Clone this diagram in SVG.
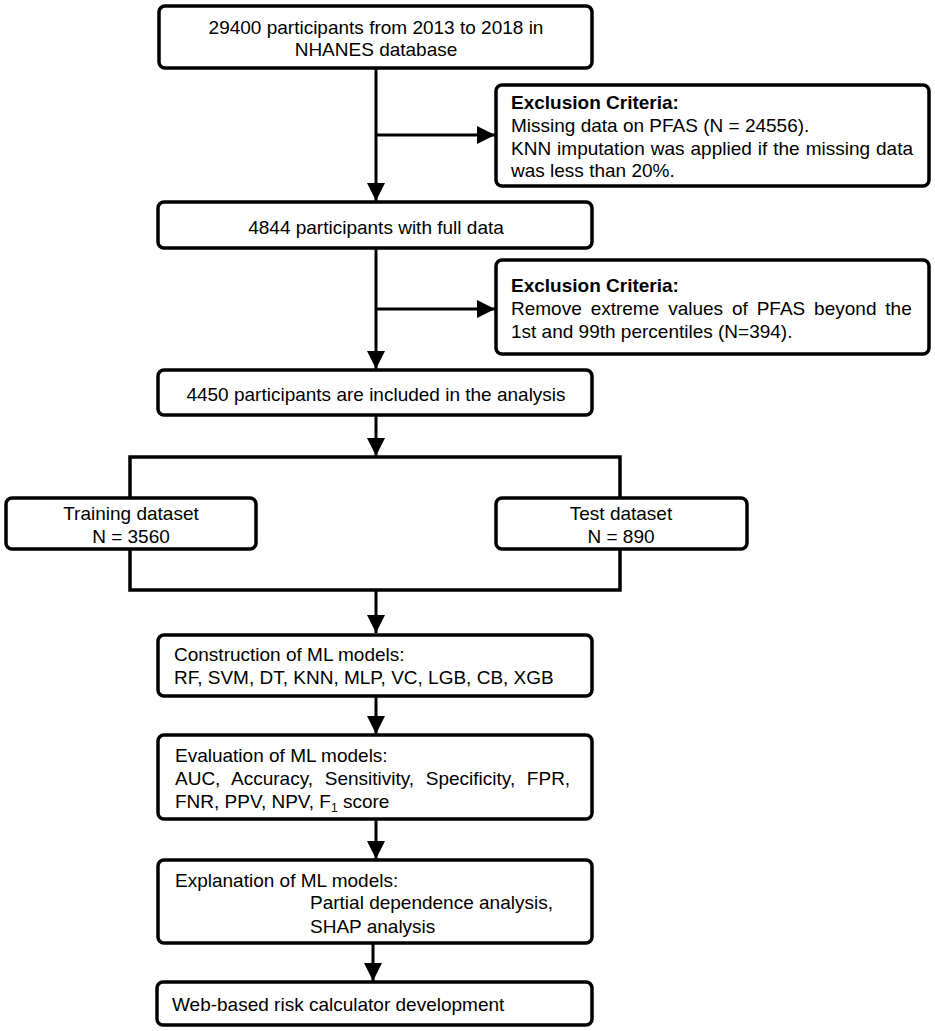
<svg xmlns="http://www.w3.org/2000/svg" width="935" height="1031" viewBox="0 0 935 1031">
<defs>
<marker id="ah" markerWidth="6" markerHeight="6" refX="6" refY="3" orient="auto" markerUnits="strokeWidth">
<path d="M0,0 L6,3 L0,6 Z" fill="#000"/>
</marker>
<style>
.box{fill:#fff;stroke:#000;stroke-width:3.5}
.t{font-family:"Liberation Sans",Arial,sans-serif;font-size:19px;fill:#000}
.c{text-anchor:middle}
.b{font-weight:bold}
.ln{fill:none;stroke:#000;stroke-width:3.5;stroke-linejoin:miter}
.ar{fill:none;stroke:#000;stroke-width:3;marker-end:url(#ah)}
</style>
</defs>
<rect width="935" height="1031" fill="#fff"/>
<g id="connectors">
<line class="ar" x1="376" y1="68" x2="376" y2="201"/>
<line class="ar" x1="376" y1="135" x2="495" y2="135"/>
<line class="ar" x1="376" y1="248" x2="376" y2="369"/>
<line class="ar" x1="376" y1="309" x2="495" y2="309"/>
<line class="ar" x1="376" y1="415" x2="376" y2="456"/>
<polyline class="ln" points="130,498 130,457 620,457 620,498"/>
<polyline class="ln" points="130,549 130,590 620,590 620,549"/>
<line class="ar" x1="376" y1="590" x2="376" y2="633"/>
<line class="ar" x1="376" y1="696" x2="376" y2="734"/>
<line class="ar" x1="376" y1="819" x2="376" y2="859"/>
<line class="ar" x1="373" y1="943" x2="373" y2="981"/>
</g>
<g id="n1">
<rect class="box" x="159" y="6" width="433" height="62" rx="6"/>
<text class="t c" x="376" y="34">29400 participants from 2013 to 2018 in</text>
<text class="t c" x="376" y="56">NHANES database</text>
</g>
<g id="ex1">
<rect class="box" x="496" y="85" width="433" height="101" rx="6"/>
<text class="t b" x="511" y="109">Exclusion Criteria:</text>
<text class="t" x="511" y="132">Missing data on PFAS (N = 24556).</text>
<text class="t" x="511" y="155" word-spacing="0.7">KNN imputation was applied if the missing data</text>
<text class="t" x="511" y="177">was less than 20%.</text>
</g>
<g id="n2">
<rect class="box" x="158" y="202" width="434" height="46" rx="6"/>
<text class="t c" x="376" y="234">4844 participants with full data</text>
</g>
<g id="ex2">
<rect class="box" x="496" y="260" width="433" height="94" rx="6"/>
<text class="t b" x="511" y="292">Exclusion Criteria:</text>
<text class="t" x="511" y="315" word-spacing="3.6">Remove extreme values of PFAS beyond the</text>
<text class="t" x="511" y="338">1st and 99th percentiles (N=394).</text>
</g>
<g id="n3">
<rect class="box" x="158" y="370" width="434" height="45" rx="6"/>
<text class="t c" x="376" y="401">4450 participants are included in the analysis</text>
</g>
<g id="train">
<rect class="box" x="6" y="498" width="250" height="51" rx="6"/>
<text class="t c" x="131" y="520">Training dataset</text>
<text class="t c" x="131" y="543">N = 3560</text>
</g>
<g id="test">
<rect class="box" x="496" y="498" width="251" height="51" rx="6"/>
<text class="t c" x="621" y="520">Test dataset</text>
<text class="t c" x="621" y="543">N = 890</text>
</g>
<g id="construct">
<rect class="box" x="158" y="635" width="434" height="61" rx="6"/>
<text class="t" x="174" y="661">Construction of ML models:</text>
<text class="t" x="174" y="684">RF, SVM, DT, KNN, MLP, VC, LGB, CB, XGB</text>
</g>
<g id="eval">
<rect class="box" x="158" y="735" width="434" height="84" rx="6"/>
<text class="t" x="175" y="762">Evaluation of ML models:</text>
<text class="t" x="175" y="785" word-spacing="6.4">AUC, Accuracy, Sensitivity, Specificity, FPR,</text>
<text class="t" x="175" y="808">FNR, PPV, NPV, F<tspan font-size="12" dy="4">1</tspan><tspan dy="-4"> score</tspan></text>
</g>
<g id="explain">
<rect class="box" x="158" y="860" width="434" height="83" rx="6"/>
<text class="t" x="175" y="887">Explanation of ML models:</text>
<text class="t" x="310" y="909">Partial dependence analysis,</text>
<text class="t" x="310" y="933">SHAP analysis</text>
</g>
<g id="web">
<rect class="box" x="157" y="982" width="435" height="43" rx="6"/>
<text class="t" x="172" y="1011">Web-based risk calculator development</text>
</g>
</svg>
